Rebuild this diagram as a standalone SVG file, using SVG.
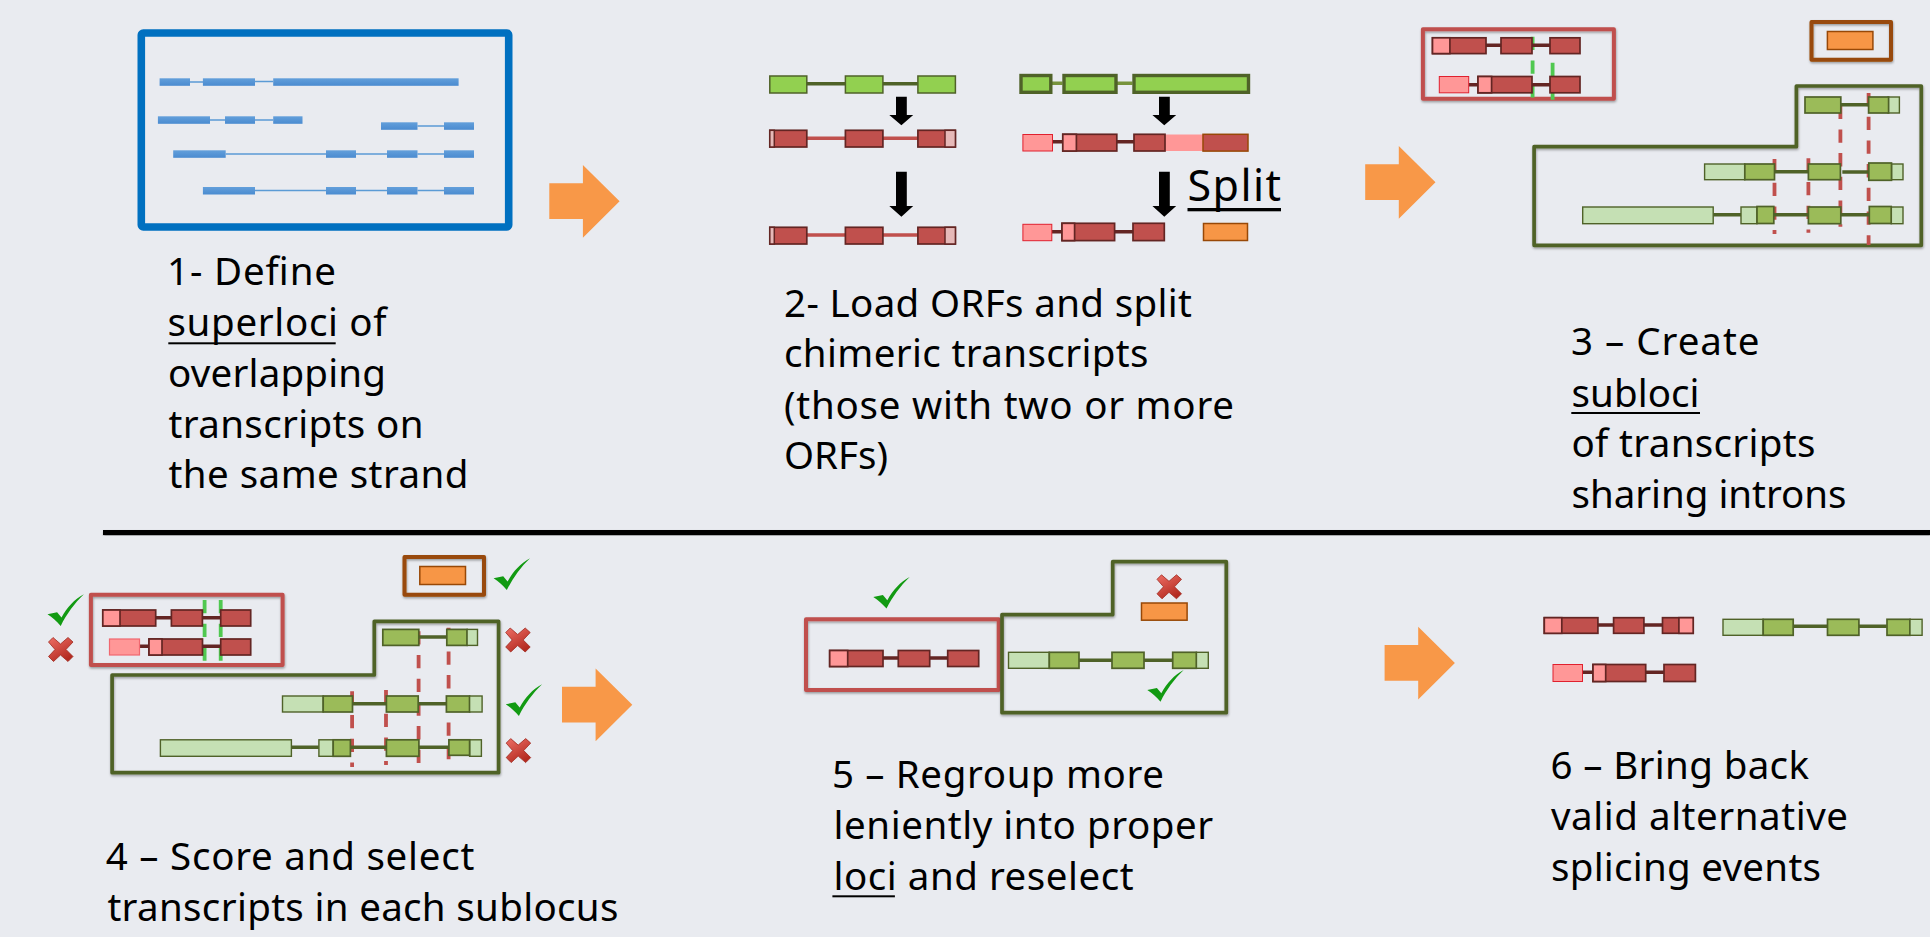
<svg xmlns="http://www.w3.org/2000/svg" xmlns:xlink="http://www.w3.org/1999/xlink" width="1930" height="937" viewBox="0 0 1930 937">
<style>
text{font-family:"Noto Sans","Open Sans","Liberation Sans",sans-serif;font-size:38.5px;fill:#000}
.f{fill:none;stroke-linejoin:round}
.fr{stroke:#C0504D;stroke-width:4}
.fb{stroke:#984807;stroke-width:4}
.fg{stroke:#4F6228;stroke-width:3.7}
.cd{fill:#C0504D;stroke:#632523;stroke-width:1.7}
.pk{fill:#FF9797;stroke:#632523;stroke-width:1.7}
.pr{fill:#FF9797;stroke:#E0202E;stroke-width:1}
.gn{fill:#9BBB59;stroke:#4F6228;stroke-width:1.7}
.lg{fill:#C5E0B4;stroke:#4F6228;stroke-width:1.4}
.lm{fill:#92D050;stroke:#4F6228;stroke-width:1.5}
.or{fill:#F79646;stroke:#984807;stroke-width:1.5}
.lp{fill:#E6B9B8;stroke:#632523;stroke-width:1.5}
.ir{stroke:#632523;stroke-width:3.4}
.ic{stroke:#C0504D;stroke-width:3.4}
.ig{stroke:#4F6228;stroke-width:3.4}
.ih{stroke:#77933C;stroke-width:3.4}
.dr{stroke:#C0504D;stroke-width:3.8;stroke-dasharray:13.3 10.4}
.dg{stroke:#50C850;stroke-width:3.8;stroke-dasharray:13.3 10.4}
.b{fill:url(#bl)}
.ib{stroke:#5B9BD5;stroke-width:1.6}
.ul{fill:#000}
.oa{fill:#F89848}
</style>
<defs>
<linearGradient id="bl" x1="0" y1="0" x2="0" y2="1"><stop offset="0" stop-color="#639FDB"/><stop offset="1" stop-color="#4A8BD0"/></linearGradient>
<linearGradient id="xg" x1="0" y1="0" x2="0.6" y2="1"><stop offset="0" stop-color="#EE6F66"/><stop offset="1" stop-color="#B32A20"/></linearGradient>
<filter id="sh" x="-5%" y="-10%" width="110%" height="125%"><feDropShadow dx="0.5" dy="1.5" stdDeviation="1.3" flood-color="#000" flood-opacity="0.35"/></filter>
<path id="chk" fill="#129A12" d="M0 20 L9.600 18 L14 23.300 C19.500 13 27 5 36.400 0 C27 9 19 20 13.200 31.700 C9 27 5 23 0 20 Z"/>
<path id="xm" fill="url(#xg)" stroke="#A02A20" stroke-width="0.8" d="M4.500 0 L12 6.500 L19.500 0 L24.500 4.500 L17.500 12 L24.500 19 L19.500 24 L12 17.500 L5 24 L0 19 L6.500 12 L0 4.500 Z"/>
<polygon id="oarrow" class="oa" points="0,18.3 33.6,18.3 33.6,0 70.3,36.3 33.6,72.7 33.6,54 0,54"/>
</defs>
<rect width="1930" height="937" fill="#E9EBF0"/>

<g id="step1">
<rect x="141.3" y="33" width="367.4" height="194" rx="2" fill="none" stroke="#0070C0" stroke-width="7.6"/>
<g>
<path class="ib" d="M190 82H203M255 81.500H273M210 120H225M255 120H273M417.500 126H444M225.700 154H326M356 154H387M417.500 154H444M255 190.500H326M356 190.500H387M417.500 190.500H444" fill="none"/>
<rect class="b" x="159.600" y="78.300" width="30.400" height="7.500"/><rect class="b" x="202.900" y="78.300" width="52.100" height="7.500"/><rect class="b" x="273.200" y="78.300" width="185.400" height="7.500"/>
<rect class="b" x="157.900" y="116.300" width="52.100" height="7.500"/><rect class="b" x="225" y="116.300" width="30" height="7.500"/><rect class="b" x="273.200" y="116.300" width="29.300" height="7.500"/>
<rect class="b" x="381" y="122.300" width="36.500" height="7.500"/><rect class="b" x="444" y="122.300" width="30" height="7.500"/>
<rect class="b" x="173.200" y="150.300" width="52.500" height="7.500"/><rect class="b" x="326" y="150.300" width="30" height="7.500"/><rect class="b" x="387" y="150.300" width="30.500" height="7.500"/><rect class="b" x="444" y="150.300" width="30" height="7.500"/>
<rect class="b" x="202.900" y="187" width="52.100" height="7.500"/><rect class="b" x="326" y="187" width="30" height="7.500"/><rect class="b" x="387" y="187" width="30.500" height="7.500"/><rect class="b" x="444" y="187" width="30" height="7.500"/>
</g>
<text x="167" y="285" textLength="169">1- Define</text>
<text x="167.500" y="336" textLength="219">superloci of</text>
<rect class="ul" x="168.300" y="342.300" width="167.400" height="2"/>
<text x="168" y="386.700" textLength="218">overlapping</text>
<text x="168.500" y="437.700" textLength="255">transcripts on</text>
<text x="168.500" y="488.300" textLength="300">the same strand</text>
</g>

<g id="step2">
<path class="ig" d="M806.800 83.700H845.400M882.900 83.700H917.900"/>
<rect class="lm" x="769.800" y="76" width="37" height="17"/><rect class="lm" x="845.400" y="76" width="37.500" height="17"/><rect class="lm" x="917.900" y="76" width="37.500" height="17"/>
<path class="ic" d="M806.800 138.300H845.400M882.900 138.300H917.900"/>
<rect class="cd" x="769.800" y="130.300" width="37" height="16.700"/><rect class="lp" x="769.800" y="130.300" width="4.500" height="16.700"/><rect class="cd" x="845.400" y="130.300" width="37.500" height="16.700"/><rect class="cd" x="917.900" y="130.300" width="37.500" height="16.700"/><rect class="lp" x="945" y="130.300" width="10.400" height="16.700"/>
<path class="ic" d="M806.800 235H845.400M882.900 235H917.900"/>
<rect class="cd" x="769.800" y="227.300" width="37" height="16.700"/><rect class="lp" x="769.800" y="227.300" width="4.500" height="16.700"/><rect class="cd" x="845.400" y="227.300" width="37.500" height="16.700"/><rect class="cd" x="917.900" y="227.300" width="37.500" height="16.700"/><rect class="lp" x="945" y="227.300" width="10.400" height="16.700"/>

<path class="ih" d="M1051.400 83.300H1062.500M1116.800 83.300H1132.500"/>
<g class="lm" style="stroke-width:3.400"><rect x="1021" y="75.500" width="29.800" height="16.800"/><rect x="1064" y="75.500" width="52" height="16.800"/><rect x="1134" y="75.500" width="114.500" height="16.800"/></g>
<path class="ir" d="M1052.500 141.700H1062.500M1116.800 141.700H1134"/>
<rect class="pr" x="1022.900" y="134.500" width="29.600" height="16.500"/>
<rect x="1165" y="134.500" width="38" height="16.500" fill="#FF9797"/>
<rect class="cd" x="1062.800" y="134.300" width="54" height="16.700"/><rect class="pk" x="1062.800" y="134.300" width="13.600" height="16.700"/>
<rect class="cd" x="1134" y="134.300" width="31" height="16.700"/>
<rect x="1203" y="134.300" width="45" height="16.800" fill="#C0504D" stroke="#984807" stroke-width="1.500"/>
<path class="ir" d="M1051.800 231.700H1061.800M1114.600 231.700H1133"/>
<rect class="pr" x="1022.900" y="224.300" width="28.900" height="16.400"/>
<rect class="cd" x="1062" y="223.300" width="52.600" height="17.300"/><rect class="pk" x="1062" y="223.300" width="12.600" height="17.300"/>
<rect class="cd" x="1133" y="223.300" width="31.300" height="17.300"/>
<rect class="or" x="1203.500" y="223.500" width="44" height="17"/>
<text x="1187.500" y="200.700" textLength="93.500" style="font-size:43px">Split</text>
<rect class="ul" x="1187.500" y="208" width="93.500" height="3.300"/>
<text x="784" y="316.700" textLength="408">2- Load ORFs and split</text>
<text x="784" y="367.300" textLength="364.500">chimeric transcripts</text>
<text x="784" y="419" textLength="450">(those with two or more</text>
<text x="784" y="469.300" textLength="104">ORFs)</text>
</g>

<g id="step3">
<rect class="f fr" x="1422.900" y="29.300" width="191" height="69.400" filter="url(#sh)"/>
<path class="dg" d="M1532.600 36.700V100M1552.600 62.700V100"/>
<path class="ir" d="M1486 45.300H1501M1531.900 45.300H1550M1468.700 84.700H1478M1532 84.700H1550"/>
<rect class="cd" x="1432.500" y="37.800" width="53.500" height="15.800"/><rect class="pk" x="1432.500" y="37.800" width="17.400" height="15.800"/><rect class="cd" x="1501" y="37.800" width="31" height="15.800"/><rect class="cd" x="1550" y="37.800" width="30" height="15.800"/>
<rect class="pr" x="1439.300" y="76.500" width="29.400" height="16.300"/><rect class="cd" x="1478" y="76.500" width="54" height="16.300"/><rect class="pk" x="1478" y="76.500" width="13.600" height="16.300"/><rect class="cd" x="1550" y="76.500" width="30" height="16.300"/>
<rect class="f fb" x="1811.500" y="22" width="79.500" height="37.700" filter="url(#sh)"/>
<rect class="or" x="1827.400" y="31.500" width="45.500" height="18"/>
<path class="f fg" d="M1534.100 146.700H1796.400V86H1921.300V245.300H1534.100Z" filter="url(#sh)"/>
<path class="dr" d="M1840.400 105.700V226.700M1868.600 93V245M1774.500 159V234M1808.400 158.300V232.700"/>
<path class="ig" d="M1840.800 104.700H1868.200M1774.500 171.700H1808.400M1842.300 172H1870.500M1713.200 214.700H1741M1773.800 214.700H1808.400M1840.800 214.700H1869.300"/>
<rect class="gn" x="1805" y="97" width="35.800" height="16"/><rect class="lg" x="1888" y="97" width="11.400" height="16"/><rect class="gn" x="1868.600" y="97" width="20" height="16"/>
<rect class="lg" x="1704.600" y="164" width="40.200" height="15.700"/><rect class="gn" x="1744.800" y="164" width="29.700" height="15.700"/><rect class="gn" x="1808.400" y="164" width="32" height="15.700"/><rect class="lg" x="1891.500" y="164" width="11.500" height="15.700"/><rect class="gn" x="1868.800" y="163" width="22.700" height="17.300"/>
<rect class="lg" x="1582.700" y="207" width="130.500" height="16.700"/><rect class="lg" x="1741" y="207" width="16" height="16.700"/><rect class="gn" x="1757" y="206.500" width="16.800" height="17"/><rect class="gn" x="1808.400" y="207" width="32.400" height="16.700"/><rect class="lg" x="1891.200" y="207" width="11.800" height="16.700"/><rect class="gn" x="1869.300" y="206.500" width="21.900" height="17"/>
<text x="1571" y="355" textLength="188.500">3 – Create</text>
<text x="1571.500" y="406.700" textLength="128">subloci</text>
<rect class="ul" x="1571.300" y="412" width="128.700" height="2"/>
<text x="1571.500" y="456.700" textLength="244">of transcripts</text>
<text x="1571.500" y="508.300" textLength="275">sharing introns</text>
</g>

<g id="step4">
<rect class="f fb" x="404.500" y="557" width="79.500" height="37.700" filter="url(#sh)"/>
<rect class="or" x="419.800" y="566.500" width="45.700" height="18"/>
<rect class="f fr" x="90.900" y="594.700" width="191.700" height="70.300" filter="url(#sh)"/>
<path class="dg" d="M204.600 600V661M220.700 600V661"/>
<path class="ir" d="M155.700 617.700H171.400M202.500 617.700H220.700M139.600 646.300H148.900M202.500 646.300H220.700"/>
<rect class="cd" x="102.800" y="610" width="52.900" height="16"/><rect class="pk" x="102.800" y="610" width="17.200" height="16"/><rect class="cd" x="171.400" y="610" width="31" height="16"/><rect class="cd" x="220.700" y="610" width="30" height="16"/>
<rect x="109.500" y="639" width="30" height="16" fill="#FF9797" stroke="#F06870" stroke-width="1.200"/><rect class="cd" x="149" y="639" width="53.500" height="16"/><rect class="pk" x="149" y="639" width="13" height="16"/><rect class="cd" x="220.700" y="639" width="30" height="16"/>
<path class="f fg" d="M112.100 675H374.300V621.300H498.600V772.700H112.100Z" filter="url(#sh)"/>
<path class="dr" d="M352.100 691.300V767M386 690V765M418.600 631.300V763M448.600 627.700V759.300"/>
<path class="ig" d="M418.900 637H446.400M352.500 703.700H386.400M418.200 703.700H446.400M291.400 747.300H318.900M350.400 747.300H386.400M418.900 747.300H448.900"/>
<rect class="gn" x="382.800" y="629.400" width="36" height="16"/><rect class="gn" x="446.800" y="629.400" width="20.300" height="16"/><rect class="lg" x="467.100" y="629.400" width="10.400" height="16"/>
<rect class="lg" x="282.500" y="696" width="40.700" height="16"/><rect class="gn" x="323.200" y="696" width="29.300" height="16"/><rect class="gn" x="386.400" y="696" width="31.800" height="16"/><rect class="gn" x="446.400" y="696" width="23.200" height="16"/><rect class="lg" x="469.600" y="696" width="12.500" height="16"/>
<rect class="lg" x="160.400" y="739.800" width="131" height="16.500"/><rect class="lg" x="318.900" y="739.800" width="14.300" height="16.500"/><rect class="gn" x="333.200" y="739.800" width="17.200" height="16.500"/><rect class="gn" x="386.400" y="739.800" width="32.500" height="16.500"/><rect class="lg" x="469.600" y="739.800" width="11.800" height="16.500"/><rect class="gn" x="448.900" y="739.800" width="20.700" height="15.500"/>
<use href="#chk" x="493.600" y="558.300"/>
<use href="#chk" x="47.500" y="594.300"/>
<use href="#chk" x="505.700" y="684.300"/>
<use href="#xm" x="48.500" y="637.500"/>
<use href="#xm" x="505.700" y="628"/>
<use href="#xm" x="506.200" y="738.600"/>
<text x="105.800" y="870" textLength="368.500">4 – Score and select</text>
<text x="107.400" y="920.700" textLength="511">transcripts in each sublocus</text>
</g>

<g id="step5">
<rect class="f fr" x="806" y="619.300" width="192.700" height="70.700" filter="url(#sh)"/>
<path class="ir" d="M883 658H898.300M929.700 658H947.700"/>
<rect class="cd" x="829.700" y="650.500" width="53.300" height="16"/><rect class="pk" x="829.700" y="650.500" width="18" height="16"/><rect class="cd" x="898.300" y="650.500" width="31.400" height="16"/><rect class="cd" x="947.700" y="650.500" width="31" height="16"/>
<path class="f fg" d="M1002 614.700H1112.700V561.700H1226.300V712.700H1002Z" filter="url(#sh)"/>
<rect class="or" x="1141.500" y="603" width="45.600" height="17.200"/>
<path class="ig" d="M1079 660.300H1112M1144 660.300H1172.700"/>
<rect class="lg" x="1008.500" y="652.300" width="40.800" height="16"/><rect class="gn" x="1049.300" y="652.300" width="29.700" height="16"/><rect class="gn" x="1112" y="652.300" width="32" height="16"/><rect class="lg" x="1196.300" y="652.300" width="12" height="16"/><rect class="gn" x="1172.700" y="652.300" width="23.600" height="16"/>
<use href="#chk" x="873.300" y="576.900"/>
<use href="#chk" x="1147.300" y="670"/>
<use href="#xm" x="1157" y="574.800"/>
<text x="832" y="788.300" textLength="332">5 – Regroup more</text>
<text x="833.600" y="838.700" textLength="379.500">leniently into proper</text>
<text x="833.600" y="889.700" textLength="300">loci and reselect</text>
<rect class="ul" x="832.400" y="895.300" width="62.500" height="2"/>
</g>

<g id="step6">
<path class="ir" d="M1597.900 625H1613.600M1643.900 625H1662.500M1582.500 672.300H1592.900M1645.700 672.300H1663.900"/>
<rect class="cd" x="1544.300" y="617.700" width="53.600" height="15.600"/><rect class="pk" x="1544.300" y="617.700" width="17.500" height="15.600"/><rect class="cd" x="1613.600" y="617.700" width="30.300" height="15.600"/><rect class="cd" x="1662.500" y="617.700" width="30.700" height="15.600"/><rect class="pk" x="1678.900" y="617.700" width="14.300" height="15.600"/>
<rect class="pr" x="1553" y="664.500" width="29.500" height="17"/><rect class="cd" x="1593" y="664.500" width="52.700" height="17"/><rect class="pk" x="1593" y="664.500" width="12.700" height="17"/><rect class="cd" x="1664" y="664.500" width="31.400" height="17"/>
<path class="ig" d="M1793.200 626.300H1827.500M1858.900 626.300H1886.800"/>
<rect class="lg" x="1723" y="619.300" width="40.200" height="16"/><rect class="gn" x="1763.200" y="619.300" width="30" height="16"/><rect class="gn" x="1827.500" y="619.300" width="31.400" height="16"/><rect class="gn" x="1887" y="619.300" width="23" height="16"/><rect class="lg" x="1910" y="619.300" width="12.100" height="16"/>
<text x="1550.500" y="779.300" textLength="258.500">6 – Bring back</text>
<text x="1551" y="830" textLength="297">valid alternative</text>
<text x="1551" y="881" textLength="270">splicing events</text>
</g>

<g id="connectors">
<use href="#oarrow" x="549.300" y="165"/>
<use href="#oarrow" x="1365.200" y="146"/>
<use href="#oarrow" x="562" y="668.500"/>
<use href="#oarrow" x="1384.600" y="626.700"/>
<polygon points="896,96.700 906.800,96.700 906.800,115 913.200,115 901.400,125.300 889.300,115 896,115"/>
<polygon points="896,171.700 906.800,171.700 906.800,206 913.200,206 901.400,216.700 889.300,206 896,206"/>
<polygon points="1159,96.700 1169.800,96.700 1169.800,115 1176.200,115 1164.300,125.300 1152.400,115 1159,115"/>
<polygon points="1159,171.700 1169.800,171.700 1169.800,206 1176.200,206 1164.300,216.700 1152.400,206 1159,206"/>
</g>

<rect id="divider" x="103" y="530" width="1827" height="5" fill="#000" filter="url(#sh)"/>
</svg>
